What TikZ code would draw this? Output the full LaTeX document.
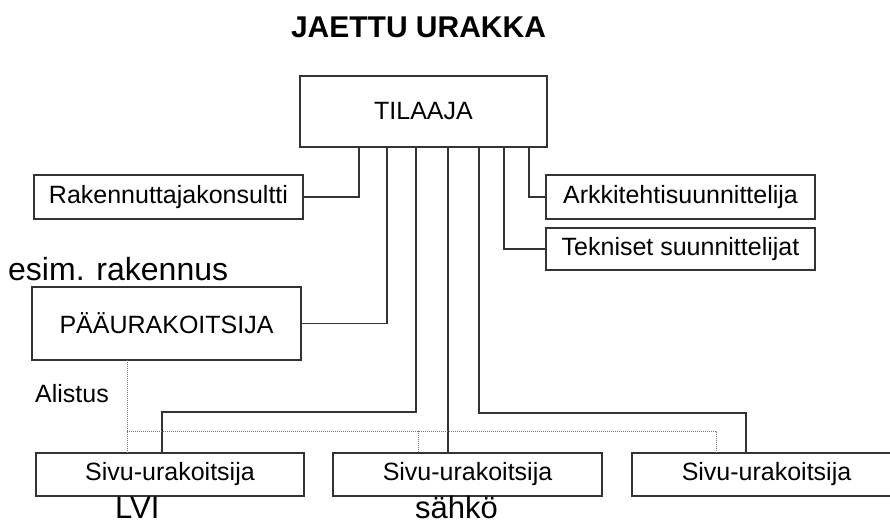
\documentclass[tikz,border=0pt]{standalone}
\usepackage{fontspec}
\setmainfont{Liberation Sans}
\usepackage{tikz}

\begin{document}
\begin{tikzpicture}[x=1pt, y=-1pt,
	box/.style={rectangle, draw=black!80, line width=1.6pt, inner sep=0pt, outer sep=0pt, minimum width=269pt, font=\fontsize{25}{30}\selectfont},
	link/.style={draw=black!80, line width=1.6pt},
	alist/.style={draw=black!55, line width=1pt, dash pattern=on 1pt off 1pt},
	big/.style={font=\fontsize{31}{36}\selectfont, inner sep=0pt}]
	\useasboundingbox (0,0) rectangle (890,525);
	\clip (0,0) rectangle (890,525);
	\node (otsikko) at (418.5,37) [anchor=base, inner sep=0pt, font=\bfseries\fontsize{30}{34}\selectfont] {JAETTU URAKKA};
	\node (tilaaja) at (423.5,111.5) [box, minimum width=247pt, minimum height=71pt] {TILAAJA};
		\node (rak) at (168.5,197) [box, minimum height=44pt] {Rakennuttajakonsultti};
		\node (arkk) at (680.5,197) [box, minimum height=44pt] {Arkkitehtisuunnittelija};
		\node (tekn) at (680.5,249) [box, minimum height=42pt] {Tekniset suunnittelijat};
		\node (esim) at (8,280) [big, anchor=base west, font=\fontsize{32}{36}\selectfont] {esim. rakennus};
		\node (paa) at (166.5,323.5) [box, minimum height=73pt] {PÄÄURAKOITSIJA};
		\node (alistus) at (35,402) [anchor=base west, inner sep=0pt, font=\fontsize{25}{30}\selectfont] {Alistus};
			\node (lvi) at (170,474.5) [box, minimum width=268pt, minimum height=43pt] {Sivu-urakoitsija};
			\node (sahko) at (467.5,474.5) [box, minimum height=43pt] {Sivu-urakoitsija};
			\node (sivu3) at (766.5,474.5) [box, minimum height=43pt] {Sivu-urakoitsija};
			\node (lvit) at (115,518) [big, anchor=base west] {LVI};
			\node (sahkot) at (415,518) [big, anchor=base west] {sähkö};
	% pudotuspisteet tilaajan alta
	\coordinate (d1) at (359,0);
	\coordinate (d2) at (387,0);
	\coordinate (d3) at (416,412);
	\coordinate (d4) at (448,0);
	\coordinate (d5) at (479,413);
	\coordinate (d6) at (504,0);
	\coordinate (d7) at (529,0);
	\coordinate (k1) at (162,0);
	\coordinate (k3) at (746,0);
	\draw[link] (rak.east) -| (d1 |- tilaaja.south);
	\draw[link] (arkk.west) -| (d7 |- tilaaja.south);
	\draw[link] (tekn.west) -| (d6 |- tilaaja.south);
	\draw[link] (paa.east) -| (d2 |- tilaaja.south);
	\draw[link] (tilaaja.south -| d3) -- (d3) -| (k1 |- lvi.north);
	\draw[link] (tilaaja.south -| d4) -- (sahko.north -| d4);
	\draw[link] (tilaaja.south -| d5) -- (d5) -| (k3 |- sivu3.north);
	% alistus
	\coordinate (a1) at (127,431);
	\coordinate (a2) at (418,431);
	\coordinate (a3) at (716,431);
	\draw[alist] (paa.south -| a1) -- (lvi.north -| a1);
	\draw[alist] (a1) -| (sivu3.north -| a3);
	\draw[alist] (a2) -- (sahko.north -| a2);
\end{tikzpicture}
\end{document}
